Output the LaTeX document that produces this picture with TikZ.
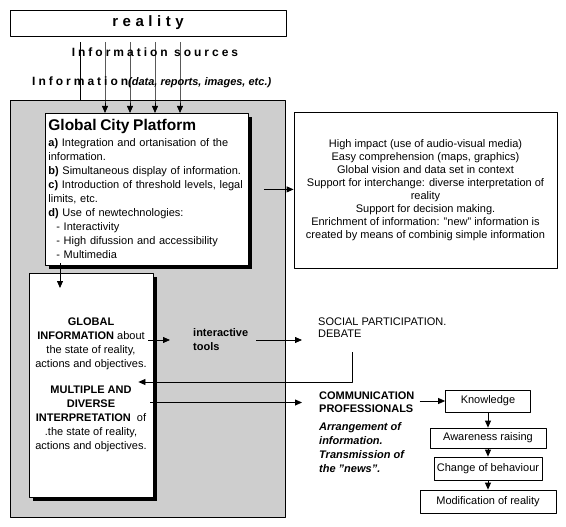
\documentclass[tikz,border=0pt]{standalone}
\usepackage{fontspec}
\setmainfont{Liberation Sans}
\newfontfamily\widefont[LetterSpace=25]{Liberation Sans}
\newfontfamily\widerfont[LetterSpace=30]{Liberation Sans}
\usetikzlibrary{arrows.meta,calc,shadows,positioning}
\definecolor{dotgray}{RGB}{206,206,206}
\tikzset{
	arr/.style={-{Triangle[length=7pt,width=6pt]},line width=0.8pt},
	box/.style={draw,line width=0.8pt,fill=white},
	txt/.style={font=\fontsize{11}{14}\selectfont,inner sep=0pt},
	blackshadow/.style={drop shadow={shadow xshift=#1,shadow yshift=-#1,fill=black,opacity=1}},
}
\begin{document}
\begin{tikzpicture}[x=1pt,y=-1pt,line join=round]
		\useasboundingbox (0,0) rectangle (566,527);
		% top: reality and the information sources
		\node[box,inner sep=0pt,minimum width=276pt,minimum height=26pt] (reality) at (148,23) {\fontsize{15}{17}\widerfont\bfseries reality};
		\node[draw,fill=dotgray,line width=0.8pt,inner sep=0pt,minimum width=275pt,minimum height=417pt,anchor=north west] (panel) at (10,100) {};
		\draw[line width=0.8pt] ($(reality.south -| 80,0)+(0,6)$) -- (80,0 |- panel.north);
		\foreach \x in {105,130,155,180}{\draw[arr] ($(reality.south -| \x,0)+(0,6)$) -- (\x,0 |- panel.north) -- (\x,113);}
		\node[inner sep=0pt,font=\fontsize{12}{14}\widefont\bfseries] (sources) at (155,52) {Information sources};
		\node[inner sep=0pt,anchor=west] (info) at (32,82) {{\fontsize{12}{14}\widefont\bfseries Information}{\fontsize{11}{13}\selectfont\bfseries\itshape(data, reports, images, etc.)}};
		% platform and its effects
		\node[box,blackshadow=4pt,txt,anchor=north west,minimum width=203pt,minimum height=152pt,text width=197pt,inner xsep=3pt,align=left] (gcp) at (45,113) {{\fontsize{15.5}{17}\selectfont\bfseries Global City Platform}\\[2pt]
			\textbf{a)} Integration and ortanisation of the\\
			information.\\
			\textbf{b)} Simultaneous display of information.\\
			\textbf{c)} Introduction of threshold levels, legal\\
			limits, etc.\\
			\textbf{d)} Use of newtechnologies:\\
			\hspace*{8pt}- Interactivity\\
			\hspace*{8pt}- High difussion and accessibility\\
			\hspace*{8pt}- Multimedia};
		\node[box,txt,font=\fontsize{11}{13}\selectfont,minimum width=263pt,minimum height=156pt,align=center] (ibox) at (425.5,190) {High impact (use of audio-visual media)\\
			Easy comprehension (maps, graphics)\\
			Global vision and data set in context\\
			Support for interchange: diverse interpretation of\\
			reality\\
			Support for decision making.\\
			Enrichment of information: "new" information is\\
			created by means of combinig simple information};
		\draw[arr] ($(gcp.east)+(15,0)$) -- (gcp.east -| ibox.west);
		% global information box
		\node[box,blackshadow=3.5pt,txt,minimum width=124pt,minimum height=224pt,align=center] (glob) at (91,385) {\textbf{GLOBAL}\\
			\textbf{INFORMATION} about\\
			the state of reality,\\
			actions and objectives.\\[12pt]
			\textbf{MULTIPLE AND}\\
			\textbf{DIVERSE}\\
			\textbf{INTERPRETATION}\ \ of\\
			.the state of reality,\\
			actions and objectives.};
		\coordinate (g1) at (60,263);
		\coordinate (g2) at (60,288);
		\draw[arr] (g1) -- (g2);
		% participation and communication
		\node[txt,font=\fontsize{11}{14}\selectfont\bfseries,align=left,anchor=west] (itools) at (193,340) {interactive\\tools};
		\node[txt,font=\fontsize{11}{12}\selectfont,align=left,anchor=west] (social) at (318,328) {SOCIAL PARTICIPATION.\\DEBATE};
		\node[txt,font=\fontsize{11}{13}\selectfont\bfseries,align=left,anchor=west] (comm) at (319,402.5) {COMMUNICATION\\PROFESSIONALS};
		\node[txt,font=\fontsize{11}{14}\selectfont\bfseries\itshape,align=left,anchor=west] (arrange) at (319,448) {Arrangement of\\information.\\Transmission of\\the "news".};
		\draw[arr] ($(glob.east |- itools.west)+(-5,0)$) -- ($(itools.west)+(-23,0)$);
		\draw[arr] ($(itools.east)+(8,0)$) -- ($(itools.east -| social.west)+(-16,0)$);
		\coordinate (fb) at (352,352);
		\draw[arr] (fb) |- ($(glob.east)+(-15,-3)$);
		\draw[arr] ($(glob.east |- comm.west)+(-3,0)$) -- ($(comm.west)+(-17,0)$);
		% chain of effects
		\foreach \n/\y/\w/\h/\t in {know/401/85/22/Knowledge,aware/438/116/20/Awareness raising,change/468.5/108/23/Change of behaviour,modif/501.5/136/23/Modification of reality}{\node[box,txt,minimum width=\w pt,minimum height=\h pt] (\n) at (488,\y) {\t};}
		\draw[arr] ($(comm.east |- know.west)+(5,0)$) -- (know.west);
		\foreach \a/\b in {know/aware,aware/change,change/modif}{\draw[arr] (\a.south) -- (\b.north);}
\end{tikzpicture}
\end{document}
